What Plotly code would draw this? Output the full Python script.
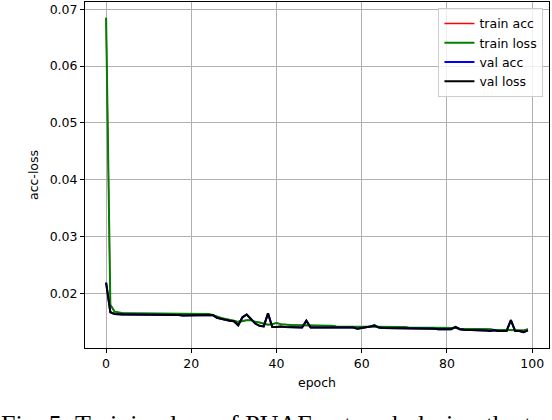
import plotly.graph_objects as go

epochs = list(range(100))

train_loss = [
    0.0685, 0.0180, 0.0168, 0.0166, 0.0165, 0.0165, 0.0165, 0.0165, 0.0165, 0.0165,
    0.0165, 0.0165, 0.0165, 0.0165, 0.0165, 0.0165, 0.0164, 0.0164, 0.0164, 0.0164,
    0.0164, 0.0164, 0.0164, 0.0164, 0.0164, 0.0162, 0.0159, 0.0157, 0.0155, 0.0154,
    0.0152, 0.0150, 0.0152, 0.0153, 0.0153, 0.0150, 0.0149, 0.0147, 0.0145, 0.0146,
    0.0148, 0.0146, 0.0145, 0.0144, 0.0144, 0.0144, 0.0144, 0.0143, 0.0143, 0.0143,
    0.0143, 0.0143, 0.0143, 0.0143, 0.0142, 0.0142, 0.0142, 0.0142, 0.0142, 0.0142,
    0.0142, 0.0142, 0.0142, 0.0142, 0.0141, 0.0141, 0.0141, 0.0141, 0.0141, 0.0141,
    0.0141, 0.0140, 0.0140, 0.0140, 0.0140, 0.0140, 0.0140, 0.0139, 0.0139, 0.0139,
    0.0139, 0.0139, 0.0139, 0.0138, 0.0138, 0.0138, 0.0138, 0.0137, 0.0137, 0.0137,
    0.0137, 0.0136, 0.0136, 0.0136, 0.0136, 0.0136, 0.0135, 0.0135, 0.0135, 0.0137,
]

val_loss = [
    0.0219, 0.0167, 0.0164, 0.0163, 0.0163, 0.0163, 0.0163, 0.0163, 0.0163, 0.0163,
    0.0162, 0.0162, 0.0162, 0.0162, 0.0162, 0.0162, 0.0162, 0.0162, 0.0161, 0.0161,
    0.0161, 0.0161, 0.0161, 0.0161, 0.0161, 0.0162, 0.0157, 0.0155, 0.0154, 0.0152,
    0.0151, 0.0144, 0.0158, 0.0163, 0.0155, 0.0147, 0.0143, 0.0142, 0.0165, 0.0141,
    0.0141, 0.0142, 0.0141, 0.0141, 0.0140, 0.0140, 0.0140, 0.0152, 0.0140, 0.0140,
    0.0140, 0.0140, 0.0140, 0.0140, 0.0140, 0.0140, 0.0140, 0.0139, 0.0140, 0.0138,
    0.0139, 0.0140, 0.0142, 0.0144, 0.0140, 0.0139, 0.0139, 0.0139, 0.0138, 0.0139,
    0.0139, 0.0139, 0.0138, 0.0138, 0.0138, 0.0138, 0.0138, 0.0138, 0.0137, 0.0137,
    0.0137, 0.0137, 0.0141, 0.0137, 0.0136, 0.0136, 0.0136, 0.0136, 0.0135, 0.0135,
    0.0134, 0.0135, 0.0134, 0.0134, 0.0134, 0.0153, 0.0134, 0.0134, 0.0132, 0.0135,
]

# accuracy histories coincide with the loss histories in the source (hidden beneath)
train_acc = list(train_loss)
val_acc = list(val_loss)

series_names = ["train acc", "train loss", "val acc", "val loss"]
x_ticks = [0, 20, 40, 60, 80, 100]
y_ticks = [0.02, 0.03, 0.04, 0.05, 0.06, 0.07]
caption = "Fig. 5: Training loss of PUAE network during the training"

fig = go.Figure()
fig.add_trace(go.Scatter(x=epochs, y=train_acc, mode="lines", name=series_names[0],
                         line=dict(color="#ff0000", width=1.3)))
fig.add_trace(go.Scatter(x=epochs, y=train_loss, mode="lines", name=series_names[1],
                         line=dict(color="green", width=2)))
fig.add_trace(go.Scatter(x=epochs, y=val_acc, mode="lines", name=series_names[2],
                         line=dict(color="blue", width=2)))
fig.add_trace(go.Scatter(x=epochs, y=val_loss, mode="lines", name=series_names[3],
                         line=dict(color="black", width=2)))

FS = 12.5
axis_common = dict(
    showline=True, linecolor="black", linewidth=1, mirror=True,
    ticks="outside", ticklen=4, tickcolor="black", tickwidth=1,
    showgrid=True, gridcolor="#b0b0b0", gridwidth=1, zeroline=False,
    tickfont=dict(family="DejaVu Sans", size=FS, color="black"),
    title_font=dict(family="DejaVu Sans", size=FS, color="black"),
)

fig.update_xaxes(range=[-4.95, 103.95], tickvals=x_ticks,
                 title_text="epoch", title_standoff=8, **axis_common)
fig.update_yaxes(range=[0.0104, 0.07127], tickvals=y_ticks, tickformat=".2f",
                 title_text="acc-loss", title_standoff=8, **axis_common)

fig.add_annotation(text=caption, xref="paper", yref="paper", x=-0.186, y=-0.174,
                   xanchor="left", yanchor="top", showarrow=False,
                   font=dict(family="Liberation Serif", size=26, color="black"))

fig.update_layout(
    width=552, height=420,
    margin=dict(l=85, r=3, t=2, b=72),
    paper_bgcolor="white", plot_bgcolor="white",
    showlegend=True,
    legend=dict(x=0.988, y=0.983, xanchor="right", yanchor="top",
                bgcolor="rgba(255,255,255,0.8)", bordercolor="#cccccc", borderwidth=1,
                font=dict(family="DejaVu Sans", size=FS, color="black"),
                itemwidth=30, tracegroupgap=0),
)

fig.write_html("out.html", config={"displayModeBar": False},
               post_script="document.body.style.margin='0';document.body.style.overflow='hidden';")
